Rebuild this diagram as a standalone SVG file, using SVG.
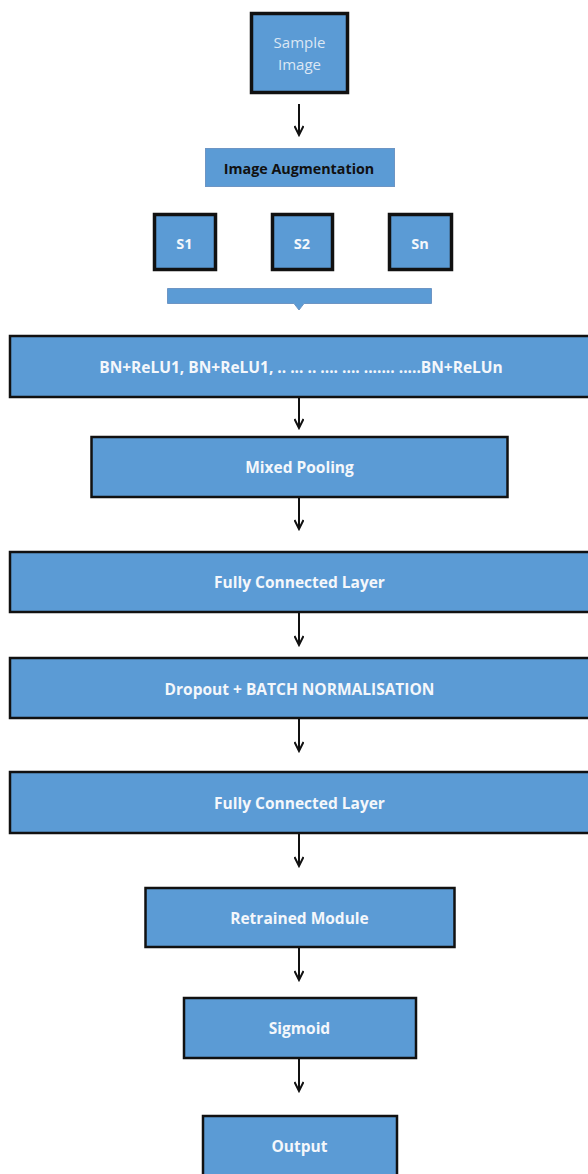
<svg xmlns="http://www.w3.org/2000/svg" width="588" height="1174" viewBox="0 0 588 1174">
<defs>
<style>
.box{fill:#5B9BD5;stroke:#111;stroke-width:2.5}
.thick{fill:#5B9BD5;stroke:#111;stroke-width:3.5}
.plain{fill:#5B9BD5;stroke:#6d95c4;stroke-width:1}
.t{font-family:"Open Sans","Liberation Sans",sans-serif;font-weight:bold;font-size:15.5px;fill:#F4F7FB;text-anchor:middle;dominant-baseline:central}
.ts{font-family:"Open Sans","Liberation Sans",sans-serif;font-weight:bold;font-size:14.5px;fill:#F4F7FB;text-anchor:middle;dominant-baseline:central}
.tl{font-family:"Open Sans","Liberation Sans",sans-serif;font-size:15px;fill:#DCE7F4;text-anchor:middle;dominant-baseline:central}
.tb{font-family:"Open Sans","Liberation Sans",sans-serif;font-weight:bold;font-size:14.3px;fill:#111;text-anchor:middle;dominant-baseline:central}
.c{stroke:#111;stroke-width:2;fill:none}
</style>
<marker id="ah" markerWidth="12" markerHeight="10" refX="10" refY="5" orient="auto" markerUnits="userSpaceOnUse">
<path d="M1,0.5 L10,5 L1,9.5" fill="none" stroke="#111" stroke-width="2"/>
</marker>
</defs>
<g id="connectors">
<line class="c" x1="299" y1="104" x2="299" y2="135" marker-end="url(#ah)"/>
<line class="c" x1="299" y1="397" x2="299" y2="428" marker-end="url(#ah)"/>
<line class="c" x1="299" y1="497" x2="299" y2="529" marker-end="url(#ah)"/>
<line class="c" x1="299" y1="612" x2="299" y2="645" marker-end="url(#ah)"/>
<line class="c" x1="299" y1="718" x2="299" y2="751" marker-end="url(#ah)"/>
<line class="c" x1="299" y1="833" x2="299" y2="866" marker-end="url(#ah)"/>
<line class="c" x1="299" y1="947" x2="299" y2="980" marker-end="url(#ah)"/>
<line class="c" x1="299" y1="1058" x2="299" y2="1091" marker-end="url(#ah)"/>
</g>
<g id="sample-image">
<rect class="thick" x="251.5" y="13.5" width="96" height="79"/>
<text class="tl" x="299.5" y="42">Sample</text>
<text class="tl" x="299.5" y="64">Image</text>
</g>
<g id="image-augmentation">
<rect class="plain" x="205.5" y="148.5" width="189" height="38"/>
<text class="tb" x="299" y="168">Image Augmentation</text>
</g>
<g id="s1">
<rect class="thick" x="154.5" y="214.5" width="61" height="55"/>
<text class="ts" x="184.5" y="243">S1</text>
</g>
<g id="s2">
<rect class="thick" x="272.5" y="214.5" width="60" height="55"/>
<text class="ts" x="302" y="243">S2</text>
</g>
<g id="sn">
<rect class="thick" x="389.5" y="214.5" width="62" height="55"/>
<text class="ts" x="420" y="243">Sn</text>
</g>
<g id="merge-bar">
<path d="M167.5,288.5 H431.5 V303.5 H304 L299,310 L294,303.5 H167.5 Z" fill="#5B9BD5" stroke="#6d95c4" stroke-width="1"/>
</g>
<g id="bn-relu">
<rect class="box" x="10" y="336" width="580" height="61"/>
<text class="t" x="301" y="367">BN+ReLU1, BN+ReLU1, .. ... .. .... .... ....... .....BN+ReLUn</text>
</g>
<g id="mixed-pooling">
<rect class="box" x="91.5" y="437" width="416" height="60"/>
<text class="t" x="299.5" y="467">Mixed Pooling</text>
</g>
<g id="fc1">
<rect class="box" x="10" y="552" width="580" height="60"/>
<text class="t" x="299.5" y="582">Fully Connected Layer</text>
</g>
<g id="dropout-bn">
<rect class="box" x="10" y="658" width="580" height="60"/>
<text class="t" x="299.5" y="689">Dropout + BATCH NORMALISATION</text>
</g>
<g id="fc2">
<rect class="box" x="10" y="772" width="580" height="61"/>
<text class="t" x="299.5" y="803">Fully Connected Layer</text>
</g>
<g id="retrained-module">
<rect class="box" x="145.5" y="888" width="309" height="59"/>
<text class="t" x="299.5" y="918">Retrained Module</text>
</g>
<g id="sigmoid">
<rect class="box" x="184" y="998" width="232" height="60"/>
<text class="t" x="299.5" y="1028">Sigmoid</text>
</g>
<g id="output">
<rect class="box" x="203" y="1116" width="194" height="62"/>
<text class="t" x="299.5" y="1146">Output</text>
</g>
</svg>
